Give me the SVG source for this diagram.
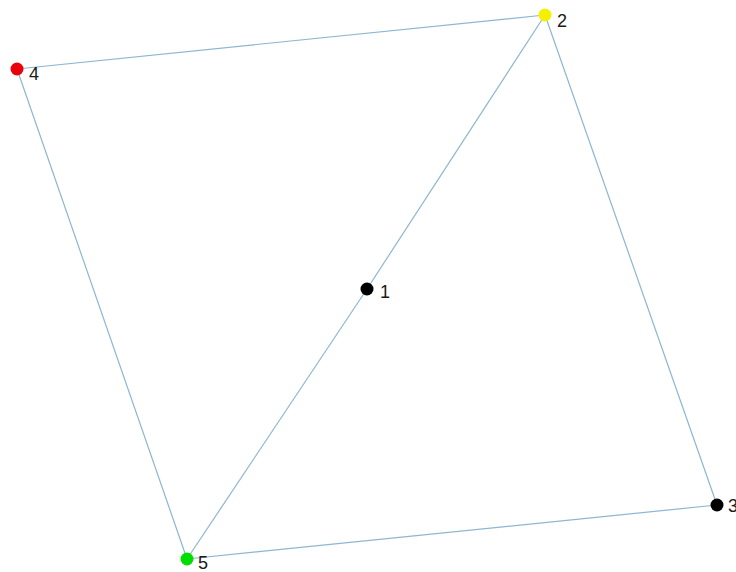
<svg xmlns="http://www.w3.org/2000/svg" width="736" height="572" viewBox="0 0 736 572">
<style>
.e{stroke:#8db6cf;stroke-width:1.2;fill:none}
.l{font-family:"Liberation Sans",Arial,sans-serif;font-size:18px;fill:#1a1a1a}
</style>
<rect width="736" height="572" fill="#fff"/>
<g id="edges">
<line class="e" x1="17" y1="69" x2="545" y2="15"/>
<line class="e" x1="545" y1="15" x2="367" y2="289"/>
<line class="e" x1="367" y1="289" x2="187" y2="559"/>
<line class="e" x1="545" y1="15" x2="717" y2="505"/>
<line class="e" x1="717" y1="505" x2="187" y2="559"/>
<line class="e" x1="17" y1="69" x2="187" y2="559"/>
</g>
<g id="n1"><circle cx="367" cy="289" r="6.5" fill="#000"/><text class="l" x="380" y="298">1</text></g>
<g id="n2"><circle cx="545" cy="15" r="6.5" fill="#f5f000"/><text class="l" x="557" y="27">2</text></g>
<g id="n3"><circle cx="717" cy="505" r="6.5" fill="#000"/><text class="l" x="728" y="512">3</text></g>
<g id="n4"><circle cx="17" cy="69" r="6.5" fill="#e8000b"/><text class="l" x="29" y="80">4</text></g>
<g id="n5"><circle cx="187" cy="559" r="6.5" fill="#00dd00"/><text class="l" x="198" y="569">5</text></g>
</svg>
